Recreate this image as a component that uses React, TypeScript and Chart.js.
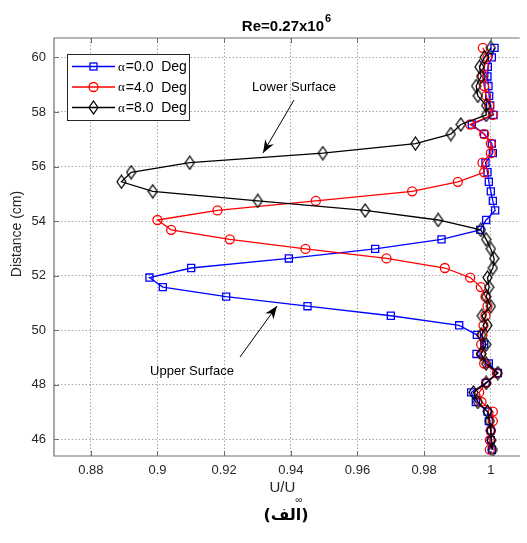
import React, { useEffect, useRef } from "react";
import { Chart, registerables } from "chart.js";
Chart.register(...registerables);

// ---- data ----
const distance = [45.62, 45.97, 46.32, 46.67, 47.02, 47.37, 47.72, 48.07, 48.43, 48.78, 49.13, 49.48, 49.83, 50.18, 50.53, 50.88, 51.23, 51.58, 51.93, 52.28, 52.63, 52.98, 53.33, 53.68, 54.04, 54.39, 54.74, 55.09, 55.44, 55.79, 56.14, 56.49, 56.84, 57.19, 57.54, 57.89, 58.24, 58.59, 58.95, 59.3, 59.65, 60.0, 60.35];

const alpha0 = [1.0003, 1.0, 1.0, 0.9994, 0.999, 0.9955, 0.9941, 0.9985, 1.0021, 0.9994, 0.9957, 0.998, 0.9958, 0.9905, 0.97, 0.945, 0.9206, 0.9016, 0.8976, 0.9101, 0.9394, 0.9653, 0.9852, 0.9968, 0.9986, 1.0013, 1.0006, 1.0, 0.9994, 0.999, 0.9984, 1.0006, 1.0003, 0.998, 0.9943, 1.0008, 0.9998, 0.9995, 0.9993, 0.999, 0.9991, 1.0003, 1.0011];

const alpha4 = [0.9997, 0.9997, 1.0, 1.0006, 1.0006, 0.9972, 0.9965, 0.9986, 1.0018, 0.998, 0.9971, 0.9971, 0.9975, 0.9978, 0.9984, 0.999, 0.9984, 0.997, 0.9938, 0.9862, 0.9687, 0.9444, 0.9217, 0.9041, 0.9, 0.918, 0.9475, 0.9764, 0.9901, 0.998, 0.9975, 1.0, 1.0, 0.998, 0.9938, 1.0006, 0.9995, 0.9986, 0.998, 0.9975, 0.998, 0.999, 0.9976];

const alpha8 = [1.0006, 1.0002, 1.0, 0.9997, 0.999, 0.9961, 0.9948, 0.9986, 1.0021, 0.9986, 0.9971, 0.9986, 0.9971, 0.999, 0.9973, 1.0, 0.9986, 0.9995, 0.999, 1.0006, 1.001, 1.0, 0.9986, 0.997, 0.9842, 0.9623, 0.9301, 0.8986, 0.8892, 0.8921, 0.9097, 0.9496, 0.9774, 0.988, 0.991, 0.9986, 0.9986, 0.9961, 0.9956, 0.9971, 0.9966, 0.9981, 1.0];

const seriesLabels = ["=0.0  Deg", "=4.0  Deg", "=8.0  Deg"];
const xTicks = [0.88, 0.9, 0.92, 0.94, 0.96, 0.98, 1.0];
const xTickLabels = ["0.88", "0.9", "0.92", "0.94", "0.96", "0.98", "1"];
const yTicks = [46, 48, 50, 52, 54, 56, 58, 60];
const yTickLabels = ["46", "48", "50", "52", "54", "56", "58", "60"];

const W = 527;
const H = 543;
const SANS = "'Liberation Sans', Arial, sans-serif";

function makeDiamond(): HTMLCanvasElement {
  const c = document.createElement("canvas");
  c.width = 11;
  c.height = 15;
  const g = c.getContext("2d")!;
  g.strokeStyle = "#000";
  g.lineWidth = 1.3;
  g.beginPath();
  g.moveTo(5.5, 1);
  g.lineTo(10, 7.5);
  g.lineTo(5.5, 14);
  g.lineTo(1, 7.5);
  g.closePath();
  g.stroke();
  return c;
}

function arrow(ctx: CanvasRenderingContext2D, x1: number, y1: number, x2: number, y2: number) {
  ctx.save();
  ctx.strokeStyle = "#000";
  ctx.fillStyle = "#000";
  ctx.lineWidth = 1;
  ctx.beginPath();
  ctx.moveTo(x1, y1);
  ctx.lineTo(x2, y2);
  ctx.stroke();
  const a = Math.atan2(y2 - y1, x2 - x1);
  const L = 13, Wd = 5, back = 9;
  const ca = Math.cos(a), sa = Math.sin(a);
  const bx = x2 - L * ca, by = y2 - L * sa;
  const cx = x2 - back * ca, cy = y2 - back * sa;
  const nx = -sa, ny = ca;
  ctx.beginPath();
  ctx.moveTo(x2, y2);
  ctx.lineTo(bx + Wd * nx, by + Wd * ny);
  ctx.lineTo(cx, cy);
  ctx.lineTo(bx - Wd * nx, by - Wd * ny);
  ctx.closePath();
  ctx.fill();
  ctx.restore();
}

export default function App() {
  const ref = useRef<HTMLCanvasElement>(null);

  useEffect(() => {
    if (!ref.current) return;
    const diamond = makeDiamond();
    const colors = ["#0000ff", "#ff0000", "#000000"];
    const styles: any[] = ["rect", "circle", diamond];
    const radii = [5, 4.5, 6];
    const values = [alpha0, alpha4, alpha8];

    const datasets = values.map((vals, k) => ({
      label: seriesLabels[k],
      data: vals.map((v, i) => ({ x: v, y: distance[i] })),
      showLine: true,
      borderColor: colors[k],
      backgroundColor: "rgba(0,0,0,0)",
      borderWidth: 1.3,
      pointStyle: styles[k],
      pointRadius: radii[k],
      pointBorderColor: colors[k],
      pointBorderWidth: 1.3,
      pointBackgroundColor: "rgba(0,0,0,0)",
      order: 2 - k,
    }));

    const overlay = {
      id: "overlay",
      afterDraw(chart: any) {
        const ctx: CanvasRenderingContext2D = chart.ctx;
        const a = chart.chartArea;
        const xs = chart.scales.x;
        const ys = chart.scales.y;
        ctx.save();
        // frame
        ctx.strokeStyle = "#6e6e6e";
        ctx.lineWidth = 1.2;
        ctx.setLineDash([]);
        ctx.beginPath();
        ctx.moveTo(a.left, a.top);
        ctx.lineTo(a.left, a.bottom);
        ctx.lineTo(a.right, a.bottom);
        ctx.moveTo(a.left, a.top);
        ctx.lineTo(a.right, a.top);
        ctx.stroke();
        ctx.lineWidth = 1;
        ctx.beginPath();
        xTicks.forEach((v) => {
          const px = Math.round(xs.getPixelForValue(v)) + 0.5;
          ctx.moveTo(px, a.bottom);
          ctx.lineTo(px, a.bottom - 5);
          ctx.moveTo(px, a.top);
          ctx.lineTo(px, a.top + 5);
        });
        yTicks.forEach((v) => {
          const py = Math.round(ys.getPixelForValue(v)) + 0.5;
          ctx.moveTo(a.left, py);
          ctx.lineTo(a.left + 5, py);
        });
        ctx.stroke();

        // title
        ctx.fillStyle = "#000";
        ctx.textBaseline = "alphabetic";
        ctx.font = `bold 15px ${SANS}`;
        const t1 = "Re=0.27x10";
        const w1 = ctx.measureText(t1).width;
        ctx.font = `bold 11px ${SANS}`;
        const w2 = ctx.measureText("6").width;
        const tx = 286 - (w1 + w2) / 2;
        ctx.font = `bold 15px ${SANS}`;
        ctx.textAlign = "left";
        ctx.fillText(t1, tx, 31);
        ctx.font = `bold 11px ${SANS}`;
        ctx.fillText("6", tx + w1 + 1, 22);

        // y axis title
        ctx.save();
        ctx.translate(17, 234);
        ctx.rotate(-Math.PI / 2);
        ctx.font = `14px ${SANS}`;
        ctx.fillStyle = "#262626";
        ctx.textAlign = "center";
        ctx.textBaseline = "middle";
        ctx.fillText("Distance (cm)", 0, 0);
        ctx.restore();

        // x axis title
        ctx.fillStyle = "#262626";
        ctx.font = `15px ${SANS}`;
        const u1 = "U/U";
        const uw = ctx.measureText(u1).width;
        ctx.font = `10px ${SANS}`;
        const iw = ctx.measureText("\u221E").width;
        const ux = 286 - (uw + iw) / 2;
        ctx.font = `15px ${SANS}`;
        ctx.textAlign = "left";
        ctx.fillText(u1, ux, 492);
        ctx.font = `10px ${SANS}`;
        ctx.fillText("\u221E", ux + uw, 503);

        // arabic caption
        ctx.fillStyle = "#000";
        ctx.font = `bold 16px 'DejaVu Sans', sans-serif`;
        ctx.textAlign = "center";
        ctx.fillText("(الف)", 286, 520);

        // annotations
        ctx.font = `13px ${SANS}`;
        ctx.fillStyle = "#000";
        ctx.textAlign = "center";
        ctx.fillText("Lower Surface", 294, 91);
        ctx.fillText("Upper Surface", 192, 375);
        arrow(ctx, 294, 100, 263, 153);
        arrow(ctx, 240, 357, 277, 306);

        // legend
        const lx = 67, ly = 54, lw = 122, lh = 66;
        ctx.fillStyle = "#fff";
        ctx.fillRect(lx, ly, lw, lh);
        ctx.strokeStyle = "#262626";
        ctx.lineWidth = 1;
        ctx.strokeRect(lx + 0.5, ly + 0.5, lw, lh);
        const rows = [66.5, 87, 107.5];
        rows.forEach((ry, k) => {
          ctx.strokeStyle = colors[k];
          ctx.lineWidth = 1.3;
          ctx.beginPath();
          ctx.moveTo(72, ry);
          ctx.lineTo(115, ry);
          ctx.stroke();
          const mx = 93.5;
          if (k === 0) {
            ctx.strokeRect(mx - 3.5, ry - 3.5, 7, 7);
          } else if (k === 1) {
            ctx.beginPath();
            ctx.arc(mx, ry, 4.5, 0, Math.PI * 2);
            ctx.stroke();
          } else {
            ctx.drawImage(diamond, mx - 5.5, ry - 7.5);
          }
          ctx.fillStyle = "#000";
          ctx.textAlign = "left";
          ctx.textBaseline = "middle";
          ctx.font = `13px 'Liberation Serif', serif`;
          ctx.fillText("\u03B1", 118, ry + 1);
          const aw = ctx.measureText("\u03B1").width;
          ctx.font = `14px ${SANS}`;
          ctx.fillText(seriesLabels[k], 118 + aw + 1, ry + 1);
        });
        ctx.restore();
      },
    };

    const chart = new Chart(ref.current, {
      type: "scatter",
      data: { datasets: datasets as any },
      options: {
        animation: false,
        responsive: false,
        layout: { padding: { top: 38, right: 5, left: 0, bottom: 0 } },
        plugins: { legend: { display: false }, title: { display: false }, tooltip: { enabled: false } },
        scales: {
          x: {
            type: "linear",
            min: 0.86896,
            max: 1.00866,
            afterBuildTicks: (s: any) => {
              s.ticks = xTicks.map((v) => ({ value: v }));
            },
            afterFit: (s: any) => {
              s.height = 87;
            },
            ticks: {
              autoSkip: false,
              maxRotation: 0,
              padding: 7,
              color: "#262626",
              font: { family: SANS, size: 13 },
              callback: (_v: any, i: number) => xTickLabels[i],
            },
            grid: { color: "rgba(0,0,0,0.35)", lineWidth: 1, drawTicks: false },
            border: { display: false, dash: [1.5, 2] },
          },
          y: {
            type: "linear",
            min: 45.39,
            max: 60.71,
            afterBuildTicks: (s: any) => {
              s.ticks = yTicks.map((v) => ({ value: v }));
            },
            afterFit: (s: any) => {
              s.width = 54;
            },
            ticks: {
              autoSkip: false,
              padding: 8,
              color: "#262626",
              font: { family: SANS, size: 13 },
              callback: (_v: any, i: number) => yTickLabels[i],
            },
            grid: { color: "rgba(0,0,0,0.35)", lineWidth: 1, drawTicks: false },
            border: { display: false, dash: [1.5, 2] },
          },
        },
      },
      plugins: [overlay as any],
    });
    return () => chart.destroy();
  }, []);

  return (
    <div style={{ position: "fixed", left: 0, top: 0, width: W, height: H, background: "#fff" }}>
      <canvas ref={ref} width={W} height={H} style={{ display: "block", width: W, height: H }} />
    </div>
  );
}
